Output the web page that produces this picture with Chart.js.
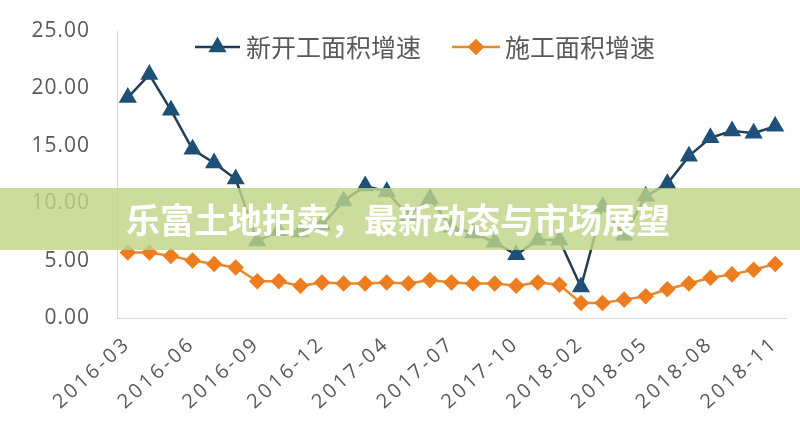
<!DOCTYPE html>
<html><head><meta charset="utf-8">
<script src="https://cdn.jsdelivr.net/npm/chart.js@4"></script>
<style>html,body{margin:0;padding:0;background:#fff;}#wrap{width:800px;height:439px;}</style>
</head><body><div id="wrap"><canvas id="c" width="800" height="439"></canvas></div>
<script>
const categories = ['2016-03','2016-04','2016-05','2016-06','2016-07','2016-08','2016-09','2016-10','2016-11','2016-12',
  '2017-02','2017-03','2017-04','2017-05','2017-06','2017-07','2017-08','2017-09','2017-10','2017-11','2017-12',
  '2018-02','2018-03','2018-04','2018-05','2018-06','2018-07','2018-08','2018-09','2018-10','2018-11'];
const newStartGrowth = [19.2,21.2,18.1,14.7,13.5,12.1,6.7,7.6,7.5,8.1,
  10.2,11.5,11.0,8.9,10.4,7.9,7.4,6.6,5.5,6.8,6.8,
  2.7,9.7,7.2,10.6,11.7,14.1,15.7,16.3,16.1,16.7];
const constructionGrowth = [5.7,5.7,5.4,5.0,4.7,4.4,3.2,3.2,2.8,3.1,
  3.0,3.0,3.1,3.0,3.3,3.1,3.0,3.0,2.8,3.1,2.9,
  1.3,1.3,1.6,1.9,2.5,3.0,3.5,3.8,4.2,4.7];
const seriesNames = ['新开工面积增速','施工面积增速'];
const yMin = 0, yMax = 25, yStep = 5;
const bannerText = '乐富土地拍卖，最新动态与市场展望';

const TEXT = '#595959';

const spacingPatch = {
  id: 'spacingPatch',
  afterLayout(chart) {
    const sp = {x: '3px', y: '1px'};
    for (const id of ['x','y']) {
      const s = chart.scales[id];
      if (s && !s._spPatched) {
        const orig = s.drawLabels.bind(s);
        s.drawLabels = function(ca) {
          const c = this.ctx; const prev = c.letterSpacing;
          c.letterSpacing = sp[id]; orig(ca); c.letterSpacing = prev || '0px';
        };
        s._spPatched = true;
      }
    }
  }
};

const legendPlugin = {
  id: 'customLegend',
  afterDatasetsDraw(chart) {
    const ctx = chart.ctx;
    const items = [{x0:195, x1:240, tx:246}, {x0:452, x1:500, tx:505}];
    const y = 47;
    chart.data.datasets.forEach((ds, i) => {
      const it = items[i];
      ctx.save();
      ctx.strokeStyle = ds.borderColor; ctx.lineWidth = ds.borderWidth;
      ctx.beginPath(); ctx.moveTo(it.x0, y); ctx.lineTo(it.x1, y); ctx.stroke();
      ctx.fillStyle = ds.pointBackgroundColor; ctx.strokeStyle = ds.pointBorderColor;
      Chart.helpers.drawPoint(ctx, {pointStyle: ds.pointStyle, radius: ds.pointRadius, rotation: 0, borderWidth: 1}, (it.x0+it.x1)/2, y);
      ctx.fillStyle = TEXT; ctx.font = '25px "Noto Sans CJK SC"';
      ctx.textBaseline = 'middle'; ctx.textAlign = 'left';
      ctx.fillText(ds.label, it.tx, y);
      ctx.restore();
    });
  }
};

const bannerPlugin = {
  id: 'banner',
  afterDraw(chart) {
    const ctx = chart.ctx;
    ctx.save();
    ctx.fillStyle = 'rgba(192,212,136,0.82)';
    ctx.fillRect(0, 188, 800, 62);
    ctx.fillStyle = '#ffffff';
    ctx.font = 'bold 34px "Noto Sans CJK SC"';
    ctx.textBaseline = 'middle'; ctx.textAlign = 'left';
    ctx.fillText(bannerText, 126, 220);
    ctx.restore();
  }
};

new Chart(document.getElementById('c'), {
  type: 'line',
  data: {
    labels: categories,
    datasets: [
      {label: seriesNames[0], data: newStartGrowth, borderColor: '#243d58', borderWidth: 2.5,
       pointStyle: 'triangle', pointRadius: 8, pointBackgroundColor: '#1f5078', pointBorderColor: '#1f5078',
       tension: 0, fill: false},
      {label: seriesNames[1], data: constructionGrowth, borderColor: '#e8892e', borderWidth: 2.5,
       pointStyle: 'rectRot', pointRadius: 6.5, pointBackgroundColor: '#ed7d1f', pointBorderColor: '#ed7d1f',
       tension: 0, fill: false}
    ]
  },
  options: {
    responsive: false,
    animation: false,
    layout: {padding: {top: 31, right: 14, bottom: 0, left: 0}},
    plugins: {legend: {display: false}, tooltip: {enabled: false}, title: {display: false}},
    scales: {
      x: {
        offset: true,
        grid: {display: false, drawTicks: false},
        border: {display: true, color: '#d9d9d9', width: 1},
        ticks: {
          autoSkip: false, minRotation: 42, maxRotation: 42, padding: 14,
          color: TEXT, font: {family: '"Open Sans"', size: 20},
          callback: function(v, i) { return i % 3 === 0 ? categories[i] : ''; }
        },
        afterFit(s) { s.height = 121; s.paddingRight = 0; s.paddingLeft = 0; }
      },
      y: {
        min: yMin, max: yMax,
        grid: {display: false, drawTicks: false},
        border: {display: true, color: '#d9d9d9', width: 1},
        ticks: {stepSize: yStep, padding: 27, color: TEXT, font: {family: '"Open Sans"', size: 21},
          callback: v => Number(v).toFixed(2)},
        afterFit(s) { s.width = 117; s.paddingTop = 0; s.paddingBottom = 0; }
      }
    }
  },
  plugins: [spacingPatch, legendPlugin, bannerPlugin]
});
</script>
</body></html>
